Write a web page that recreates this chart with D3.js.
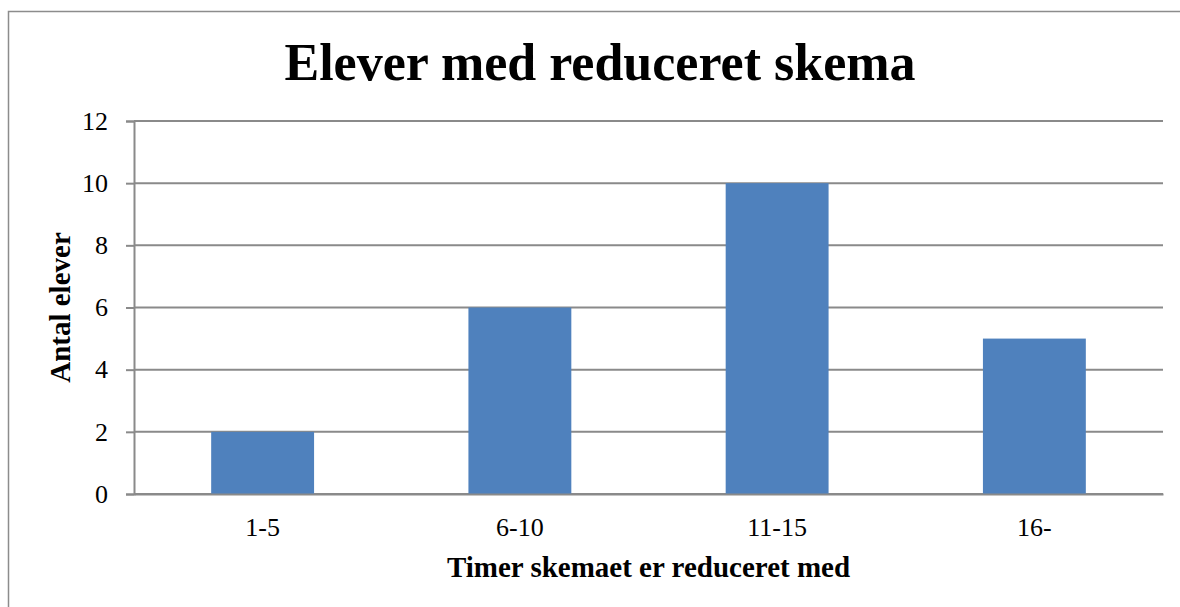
<!DOCTYPE html>
<html>
<head>
<meta charset="utf-8">
<script src="https://cdn.jsdelivr.net/npm/d3@7"></script>
<style>
  body { margin: 0; background: #fff; }
  text { font-family: "Liberation Serif", "DejaVu Serif", serif; fill: #000; }
</style>
</head>
<body>
<div id="chart"></div>
<script>
/* chart data */
var categories = ["1-5", "6-10", "11-15", "16-"]
var values = [2, 6, 10, 5]
var yTicks = [0, 2, 4, 6, 8, 10, 12]
var titleText = "Elever med reduceret skema"
var xTitle = "Timer skemaet er reduceret med"
var yTitle = "Antal elever"

/* layout */
var width = 1180, height = 607
var plot = { left: 134, right: 1163, top: 121, bottom: 494 }
var barColor = "#4F81BD"
var gridColor = "#8a8a8a"

var svg = d3.select("#chart").append("svg")
    .attr("width", width)
    .attr("height", height)

/* outer frame */
svg.append("rect")
    .attr("x", 8.5).attr("y", 11.5)
    .attr("width", 1200).attr("height", 700)
    .attr("fill", "none")
    .attr("stroke", "#8c8c8c")
    .attr("stroke-width", 1.5)

var x = d3.scaleBand()
    .domain(categories)
    .range([plot.left, plot.right])
    .paddingInner(0.6)
    .paddingOuter(0.3)

var y = d3.scaleLinear()
    .domain([0, 12])
    .range([plot.bottom, plot.top])

/* gridlines + y axis */
var yAxis = d3.axisLeft(y)
    .tickValues(yTicks)
    .tickSize(8)
    .tickPadding(18)

var gy = svg.append("g")
    .attr("transform", "translate(" + plot.left + ",0)")
    .call(yAxis)
gy.attr("font-size", null).attr("font-family", null)
gy.select(".domain").attr("stroke", gridColor).attr("stroke-width", 2)
gy.selectAll(".tick line").attr("stroke", gridColor).attr("stroke-width", 2)
gy.selectAll(".tick text").style("font-size", "26px")

svg.append("g").selectAll("line")
    .data(yTicks)
    .join("line")
      .attr("x1", plot.left)
      .attr("x2", plot.right)
      .attr("y1", d => y(d))
      .attr("y2", d => y(d))
      .attr("stroke", gridColor)
      .attr("stroke-width", 2)

/* bars */
svg.append("g").selectAll("rect")
    .data(values)
    .join("rect")
      .attr("x", (d, i) => x(categories[i]))
      .attr("y", d => y(d))
      .attr("width", x.bandwidth())
      .attr("height", d => y(0) - y(d))
      .attr("fill", barColor)

/* x axis */
var xAxis = d3.axisBottom(x).tickSize(0).tickPadding(24)
var gx = svg.append("g")
    .attr("transform", "translate(0," + plot.bottom + ")")
    .call(xAxis)
gx.attr("font-size", null).attr("font-family", null)
gx.select(".domain").attr("stroke", gridColor).attr("stroke-width", 2)
gx.selectAll(".tick text").style("font-size", "26px")

/* titles */
svg.append("text")
    .attr("x", 600)
    .attr("y", 80)
    .attr("text-anchor", "middle")
    .style("font-size", "52px")
    .attr("font-weight", "bold")
    .text(titleText)

svg.append("text")
    .attr("x", (plot.left + plot.right) / 2)
    .attr("y", 577)
    .attr("text-anchor", "middle")
    .style("font-size", "29px")
    .attr("font-weight", "bold")
    .text(xTitle)

svg.append("text")
    .attr("transform", "translate(70," + ((plot.top + plot.bottom) / 2) + ") rotate(-90)")
    .attr("text-anchor", "middle")
    .style("font-size", "29px")
    .attr("font-weight", "bold")
    .text(yTitle)
</script>
</body>
</html>
